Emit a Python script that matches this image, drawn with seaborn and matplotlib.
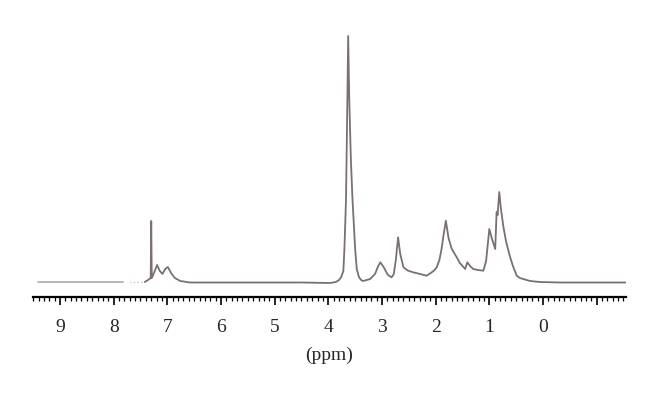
import numpy as np
import pandas as pd
import matplotlib
matplotlib.use('Agg')
import matplotlib.pyplot as plt
import seaborn as sns
from matplotlib.ticker import MultipleLocator

# left baseline piece (before the cut near 7.7 ppm)
left_ppm = [9.41, 7.83]
left_int = [1.0, 1.0]

# faint dotted bit in the gap
gap_ppm = [7.70, 7.47]
gap_int = [1.0, 1.0]

# main trace (ppm, intensity above baseline)
ppm = [7.42, 7.36, 7.31, 7.30, 7.29, 7.25, 7.19, 7.14, 7.09, 7.04, 6.99, 6.93,
       6.86, 6.76, 6.58, 5.50, 4.50, 3.97, 3.86, 3.80, 3.76, 3.72, 3.70, 3.67,
       3.66, 3.645, 3.63, 3.61, 3.58, 3.55, 3.50, 3.47, 3.43, 3.39, 3.35, 3.22,
       3.13, 3.07, 3.03, 2.97, 2.89, 2.82, 2.78, 2.74, 2.70, 2.66, 2.60, 2.52,
       2.42, 2.29, 2.17, 2.09, 2.03, 1.98, 1.93, 1.89, 1.85, 1.81, 1.78, 1.76,
       1.70, 1.61, 1.55, 1.45, 1.41, 1.36, 1.30, 1.21, 1.11, 1.06, 1.00, 0.95,
       0.89, 0.864, 0.845, 0.815, 0.783, 0.74, 0.69, 0.62, 0.56, 0.49, 0.43,
       0.37, 0.24, 0.06, -0.32, -1.55]
intensity = [1, 3, 5, 62, 5, 10, 18, 12, 9, 14, 16, 10,
             5, 2, 0.5, 0.5, 0.5, 0, 1, 3, 6, 12, 34, 84,
             124, 184, 247, 184, 124, 84, 34, 14, 6, 3, 2, 4,
             9, 17, 20.7, 16, 8, 5.7, 9, 24, 45.7, 29, 15.7, 12.5,
             10.7, 9, 7.3, 10, 12.5, 15.7, 23, 34, 49, 62.3, 52, 45,
             34, 26, 20, 14, 20.7, 17, 14, 13, 12.3, 22, 54, 44,
             34, 71, 68, 91, 74, 57, 42, 27.3, 17, 7.3, 5,
             4, 2, 1, 0.5, 0.5]

major_ticks = [-1, 0, 1, 2, 3, 4, 5, 6, 7, 8, 9]
tick_labels = ['', '0', '1', '2', '3', '4', '5', '6', '7', '8', '9']

sns.set_style('white')
plt.rcParams['font.family'] = ['Liberation Serif', 'DejaVu Serif']

fig = plt.figure(figsize=(6.6, 4.02), dpi=100)
ax = fig.add_axes([33 / 660, 104 / 402, 593 / 660, 268 / 402])

line_col = '#7a7070'
spec = pd.DataFrame({'ppm': ppm, 'intensity': intensity})
sns.lineplot(data=spec, x='ppm', y='intensity', sort=False, color=line_col,
             linewidth=1.3, ax=ax)
sns.lineplot(x=left_ppm, y=left_int, color='#b8b0b0', linewidth=1.3, ax=ax)
sns.lineplot(x=gap_ppm, y=gap_int, color='#c8c0c0', linewidth=1.0,
             linestyle=':', ax=ax)

ax.set_xlim(9.503, -1.547)
ax.set_ylim(-14, 254)

for s in ['top', 'left', 'right']:
    ax.spines[s].set_visible(False)
ax.spines['bottom'].set_color('black')
ax.spines['bottom'].set_linewidth(1.6)

ax.set_xticks(major_ticks)
ax.set_xticklabels(tick_labels)
ax.xaxis.set_minor_locator(MultipleLocator(0.1))
ax.tick_params(axis='x', which='major', direction='out', length=6, width=1.2,
               color='black', labelsize=14, pad=9, bottom=True)
ax.tick_params(axis='x', which='minor', direction='out', length=3, width=0.9,
               color='black', bottom=True)
ax.set_yticks([])
ax.set_ylabel('')
ax.set_xlabel('(ppm)', fontsize=14, labelpad=8)

fig.savefig('out.png', dpi=100)
